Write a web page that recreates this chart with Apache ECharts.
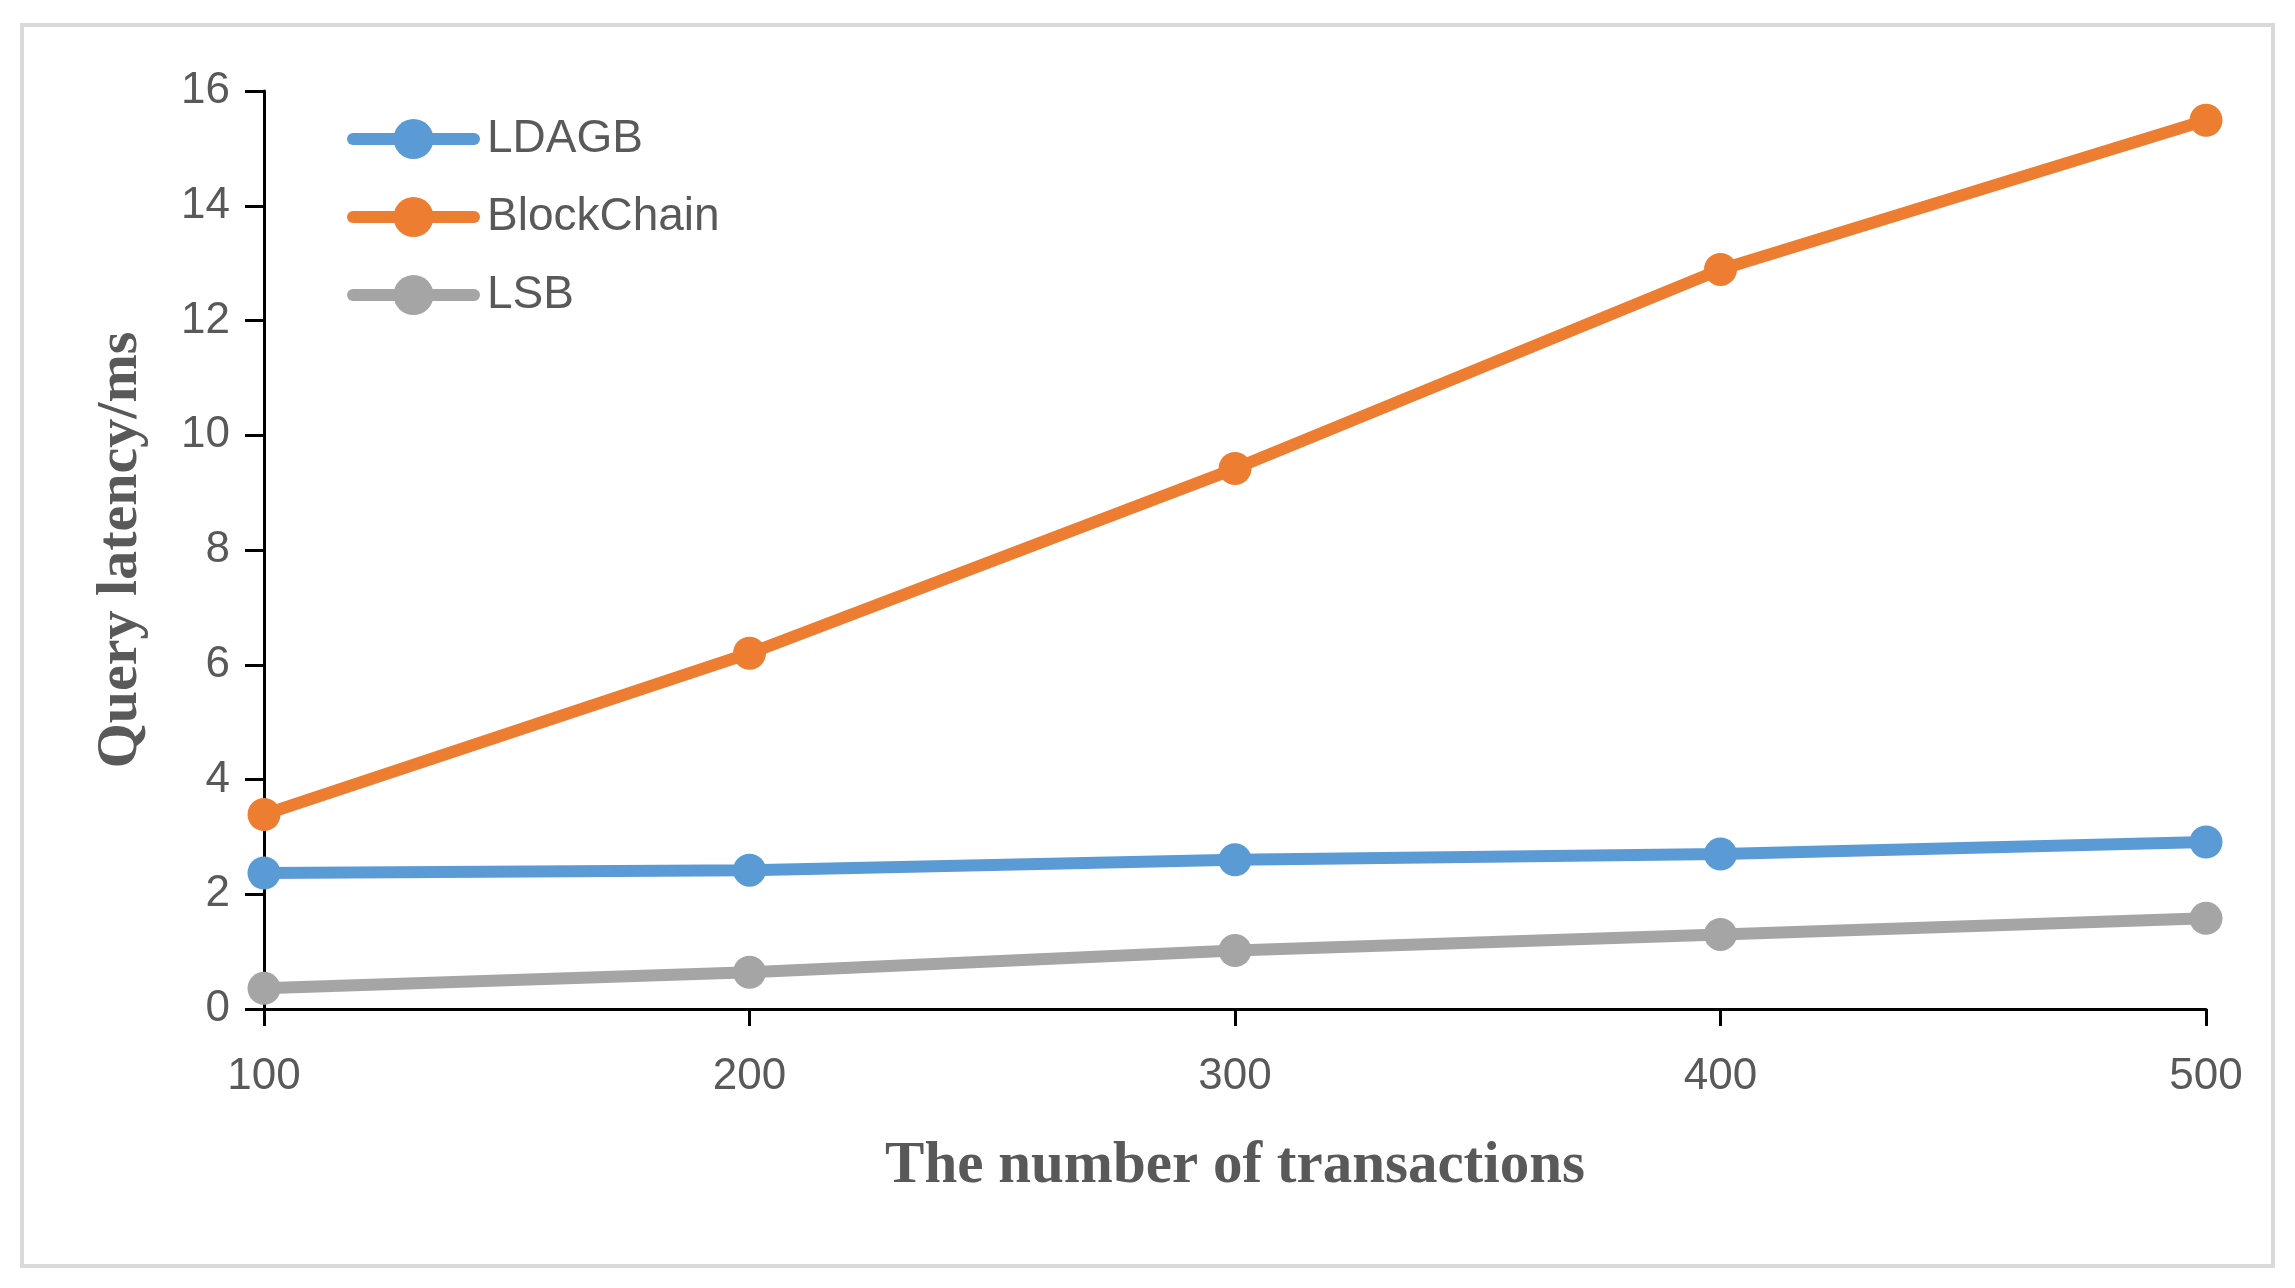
<!DOCTYPE html>
<html>
<head>
<meta charset="utf-8">
<script src="https://cdn.jsdelivr.net/npm/echarts@6/dist/echarts.min.js"></script>
<style>
html,body{margin:0;padding:0;background:#fff;}
#main{width:2295px;height:1288px;}
</style>
</head>
<body>
<div id="main"></div>
<script>
const xValues = [100, 200, 300, 400, 500];
const seriesNames = ['LDAGB', 'BlockChain', 'LSB'];
const ldagb = [2.37, 2.42, 2.60, 2.70, 2.91];
const blockchain = [3.39, 6.20, 9.42, 12.89, 15.49];
const lsb = [0.36, 0.64, 1.02, 1.30, 1.58];
const colors = ['#5B9BD5', '#ED7D31', '#A5A5A5'];
const xTitle = 'The number of transactions';
const yTitle = 'Query latency/ms';

const allData = [ldagb, blockchain, lsb];
const chart = echarts.init(document.getElementById('main'));
const labelFont = 'Liberation Sans, Arial, sans-serif';
const titleFont = 'Liberation Serif, Times New Roman, serif';

chart.setOption({
  backgroundColor: '#ffffff',
  animation: false,
  graphic: [{
    type: 'rect',
    shape: { x: 22, y: 25, width: 2251, height: 1241 },
    style: { fill: 'none', stroke: '#D9D9D9', lineWidth: 4 },
    silent: true
  }],
  grid: { left: 264, right: 89, top: 91, bottom: 279 },
  legend: {
    orient: 'vertical',
    left: 342,
    top: 111,
    itemWidth: 121,
    itemHeight: 50,
    itemGap: 32,
    data: seriesNames,
    lineStyle: { width: 12, cap: 'round' },
    textStyle: { fontFamily: labelFont, fontSize: 46, color: '#595959', padding: [0, 0, 0, 8] }
  },
  xAxis: {
    type: 'value',
    min: 100, max: 500, interval: 100,
    name: xTitle,
    nameLocation: 'middle',
    nameGap: 128,
    nameTextStyle: { fontFamily: titleFont, fontWeight: 'bold', fontSize: 59, color: '#595959' },
    axisLine: { show: true, lineStyle: { color: '#000', width: 3 } },
    axisTick: { show: true, length: 17, lineStyle: { color: '#000', width: 3 } },
    axisLabel: { margin: 46, fontFamily: labelFont, fontSize: 44, color: '#595959' },
    splitLine: { show: false }
  },
  yAxis: {
    type: 'value',
    min: 0, max: 16, interval: 2,
    name: yTitle,
    nameLocation: 'middle',
    nameRotate: 90,
    nameGap: 114,
    nameTextStyle: { fontFamily: titleFont, fontWeight: 'bold', fontSize: 58, color: '#595959' },
    axisLine: { show: true, lineStyle: { color: '#000', width: 3 } },
    axisTick: { show: true, length: 19, lineStyle: { color: '#000', width: 3 } },
    axisLabel: { margin: 34, fontFamily: labelFont, fontSize: 44, color: '#595959' },
    splitLine: { show: false }
  },
  series: seriesNames.map((name, i) => ({
    name: name,
    type: 'line',
    data: xValues.map((x, j) => [x, allData[i][j]]),
    symbol: 'circle',
    symbolSize: 33,
    color: colors[i],
    lineStyle: { width: 12, color: colors[i] },
    itemStyle: { color: colors[i] },
    z: 3 - i
  }))
});
</script>
</body>
</html>
